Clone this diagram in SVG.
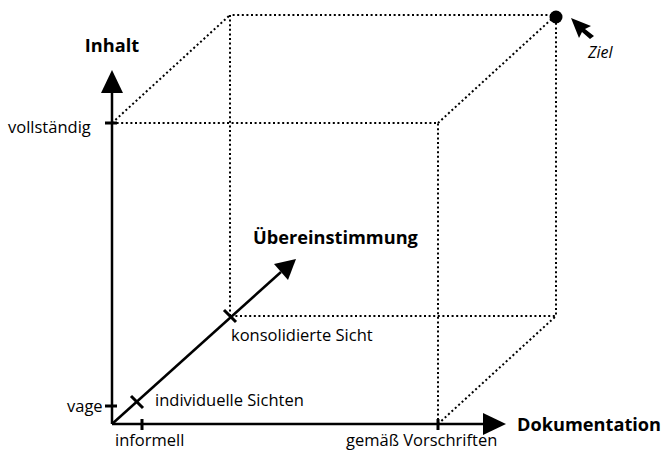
<svg xmlns="http://www.w3.org/2000/svg" width="664" height="453" viewBox="0 0 664 453">
<style>
.dot{fill:none;stroke:#000;stroke-width:2;stroke-dasharray:2 2.6}
.ax{fill:none;stroke:#000;stroke-width:2.5}
.tk{fill:none;stroke:#000;stroke-width:3}
text{font-family:"Open Sans","Noto Sans",sans-serif;fill:#000}
.lb{font-size:16.5px}
.bd{font-size:18.2px;font-weight:bold}
</style>
<rect width="664" height="453" fill="#fff"/>
<g id="cube">
<path class="dot" d="M112,123 H438 V424"/>
<path class="dot" d="M230,316 V15 H556 V316 H230"/>
<path class="dot" d="M112,123 L230,15 M438,123 L556,15 M438,424 L556,316"/>
</g>
<g id="connectors">
<path class="ax" d="M112,424 V92"/>
<path d="M101,93 L112,70 L123,93 Z"/>
<path class="ax" d="M112,424 H484"/>
<path d="M483,413 L506,424 L483,435 Z"/>
<path class="ax" d="M112,424 L281,272"/>
<path d="M274,264 L296,259 L288,280 Z"/>
<path class="tk" d="M105,123 H117 M105,406 H117 M142,419 V430 M438,419 V430 M224,310 L236,322 M131,396 L143,408"/>
</g>
<g id="ziel">
<circle cx="556" cy="17" r="6.5"/>
<path d="M571,18 L591,26 L585,29 L594,36 L590,39 L582,32 L579,38 Z"/>
<text x="588" y="58" font-style="italic" font-size="16">Ziel</text>
</g>
<g id="labels">
<text x="112" y="52" class="bd" text-anchor="middle">Inhalt</text>
<text x="8" y="133" class="lb">vollständig</text>
<text x="67" y="412" class="lb">vage</text>
<text x="155" y="406" class="lb">individuelle Sichten</text>
<text x="115" y="446" class="lb">informell</text>
<text x="346" y="446" class="lb">gemäß Vorschriften</text>
<text x="517" y="431" class="bd">Dokumentation</text>
<text x="231" y="341" class="lb">konsolidierte Sicht</text>
<text x="253" y="244" class="bd">Übereinstimmung</text>
</g>
</svg>
